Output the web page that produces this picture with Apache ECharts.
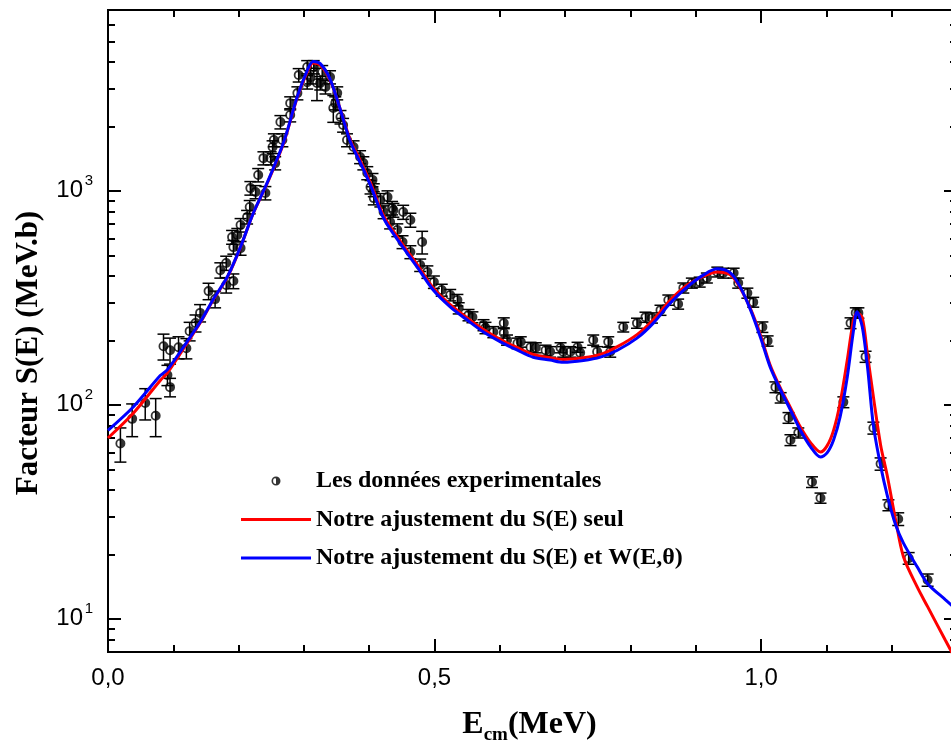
<!DOCTYPE html>
<html><head><meta charset="utf-8">
<script src="https://cdn.jsdelivr.net/npm/echarts@6/dist/echarts.min.js"></script>
<style>html,body{margin:0;padding:0;background:#fff}#c{width:951px;height:751px}</style>
</head><body><div id="c"></div>
<script>
// Experimental points: energy (MeV), S-factor (MeV.b), error
const expE = [0.019,0.037,0.057,0.073,0.085,0.091,0.095,0.095,0.108,0.120,0.125,0.134,0.141,0.154,0.164,0.172,0.181,0.181,0.190,0.192,0.192,0.198,0.203,0.203,0.213,0.217,0.218,0.226,0.230,0.238,0.241,0.249,0.252,0.254,0.256,0.264,0.267,0.279,0.279,0.290,0.292,0.305,0.305,0.310,0.315,0.320,0.325,0.328,0.333,0.340,0.345,0.348,0.351,0.356,0.360,0.366,0.376,0.386,0.391,0.397,0.402,0.405,0.407,0.407,0.417,0.422,0.428,0.432,0.435,0.437,0.443,0.451,0.452,0.463,0.463,0.478,0.481,0.489,0.499,0.511,0.524,0.535,0.537,0.552,0.558,0.575,0.578,0.590,0.606,0.606,0.611,0.627,0.632,0.647,0.655,0.670,0.677,0.693,0.697,0.708,0.719,0.723,0.743,0.749,0.766,0.769,0.789,0.810,0.823,0.833,0.846,0.858,0.873,0.881,0.894,0.906,0.917,0.933,0.942,0.958,0.965,0.979,0.988,1.002,1.010,1.022,1.030,1.042,1.045,1.057,1.078,1.091,1.126,1.137,1.145,1.149,1.160,1.172,1.183,1.195,1.210,1.226,1.255];
const expS = [66,86,102,89,188,138,180,121,186,184,221,241,269,340,312,426,460,363,608,546,379,622,540,692,755,841,1030,988,1186,1422,977,1422,1603,1727,1348,2097,1727,2260,2570,2862,3475,3790,3220,3400,3790,3190,3190,3590,3055,3400,2440,2570,2862,2213,2030,1727,1603,1440,1348,1212,1042,1125,1009,925,906,796,935,714,832,813,656,577,796,518,731,450,577,418,375,344,326,309,283,263,257,236,229,219,241,217,201,194,197,186,185,180,177,185,177,177,186,175,201,177,197,177,231,241,257,255,277,309,296,352,371,375,392,418,413,413,371,333,302,231,199,121,108,87,68.5,74,43.6,36.7,103,241,269,269,168,78,53,34,29.3,19.2,15.2];
const expErr = [12,15,17,18,26,15,25,12,22,20,22,22,25,30,28,35,35,30,45,40,30,45,40,50,55,60,75,70,85,100,70,100,110,120,95,150,120,160,180,200,250,270,230,240,270,550,230,260,220,240,350,180,200,160,150,120,110,100,95,85,75,80,70,65,65,55,65,50,60,60,45,40,60,36,55,30,70,28,25,22,20,19,17,16,15,14,14,13,14,12,11,11,11,10,10,10,10,10,10,10,10,10,11,10,11,10,12,13,14,14,15,17,16,19,20,20,21,22,22,22,20,18,16,13,11,7,6,5,4,4,2.5,2,6,14,15,15,10,5,3.5,2,2,1.2,1];

// Fitted curves sampled along energy
const fitE = [0,0.039,0.080,0.091,0.121,0.141,0.161,0.183,0.203,0.222,0.244,0.269,0.290,0.305,0.314,0.325,0.340,0.356,0.371,0.386,0.402,0.422,0.448,0.474,0.498,0.524,0.550,0.575,0.601,0.627,0.651,0.677,0.697,0.728,0.754,0.780,0.810,0.835,0.861,0.887,0.912,0.933,0.953,0.968,0.984,0.999,1.014,1.030,1.045,1.060,1.076,1.091,1.101,1.111,1.121,1.132,1.141,1.147,1.155,1.163,1.172,1.183,1.193,1.206,1.218,1.239,1.255,1.282,1.300];
const fitSeul = [70,91.6,130,141,194,241,309,396,546,780,1089,1675,2744,3590,3956,3870,3300,2390,1727,1393,1089,765,580,450,352,294,255,225,202,185,172,166,163,166,172,187,213,250,309,363,400,418,405,352,280,212,153,119,97,79,66.4,60.2,64.3,76,102,162,244,269,255,171,109,65,47,29,19.5,14.1,11.4,7.96,6.3];
const fitSW = [76,98,137,146,197,243,311,398,548,780,1095,1690,2770,3650,4020,3930,3330,2380,1700,1360,1060,745,565,438,344,287,249,219,197,180,167,162,158,161,167,180,205,241,299,356,405,432,414,356,277,207,150,117,94.6,76.3,63.5,57,59.6,68.5,87.8,135,217,272,231,150,80,52,38,27.5,22.6,17.5,14.6,12.3,11.0];

// Axis ticks
const xMajorTicks = [0, 0.5, 1.0];
const yMajorTicks = [10, 100, 1000];
const yMinorTicks = [8,9,20,30,40,50,60,70,80,90,200,300,400,500,600,700,800,900,2000,3000,4000,5000,6000];

const seriesNames = ['Les données experimentales', 'Notre ajustement du S(E) seul', 'Notre ajustement du S(E) et W(E,θ)'];

const halfDot = 'path://M50,0 A50,50 0 0 0 50,100 L50,82 A32,32 0 0 1 50,18 Z M50,0 A50,50 0 0 1 50,100 Z';
const lineIcon = 'path://M0,0 L70,0 L70,3 L0,3 Z';

const chart = echarts.init(document.getElementById('c'), null, {renderer: 'canvas'});
const black = '#000';
const sans = 'Liberation Sans';
const serif = 'Liberation Serif';

function xAxisDef(pos, major, withLabel) {
  const a = {
    type: 'value', position: pos, min: 0, max: 1.3,
    interval: major ? 0.5 : 0.1,
    axisLine: {show: true, onZero: false, lineStyle: {color: black, width: 2}},
    axisTick: {show: true, inside: true, length: major ? 13 : 7, lineStyle: {color: black, width: 2}},
    splitLine: {show: false},
    axisLabel: {show: false}
  };
  if (major) { a.axisTick.customValues = xMajorTicks; }
  if (withLabel) {
    a.axisLabel = {
      show: true, customValues: xMajorTicks, margin: 14,
      fontFamily: sans, fontSize: 24, color: black,
      formatter: v => v.toFixed(1).replace('.', ',')
    };
    a.name = '{a|E}{s|cm}{a|(MeV)}';
    a.nameLocation = 'middle';
    a.nameGap = 57;
    a.nameTextStyle = {
      padding: [0, 6, 0, 0],
      rich: {
        a: {fontFamily: serif, fontWeight: 'bold', fontSize: 32, color: black, lineHeight: 36, verticalAlign: 'top'},
        s: {fontFamily: serif, fontWeight: 'bold', fontSize: 19, color: black, lineHeight: 19, padding: [17, 0, 0, 0], verticalAlign: 'top'}
      }
    };
  }
  return a;
}

function yAxisDef(pos, major, labelKind) {
  const a = {
    type: 'log', logBase: 10, position: pos, min: 7, max: 7000,
    axisLine: {show: true, onZero: false, lineStyle: {color: black, width: 2}},
    axisTick: {show: true, inside: true, length: major ? 13 : 7, lineStyle: {color: black, width: 2},
               customValues: major ? yMajorTicks : yMinorTicks},
    splitLine: {show: false},
    minorTick: {show: false},
    axisLabel: {show: false}
  };
  if (labelKind === 'base') {
    a.axisLabel = {
      show: true, customValues: yMajorTicks, margin: 25,
      fontFamily: sans, fontSize: 24, color: black,
      formatter: v => {
        const k = Math.round(Math.log10(v));
        return Math.abs(Math.pow(10, k) - v) > 1e-6 * v ? '' : '10';
      }
    };
    a.name = 'Facteur S(E) (MeV.b)';
    a.nameLocation = 'middle';
    a.nameRotate = 90;
    a.nameGap = 64;
    a.nameTextStyle = {fontFamily: serif, fontWeight: 'bold', fontSize: 31, color: black, padding: [0, 44, 0, 0]};
  } else if (labelKind === 'exp') {
    a.axisLabel = {
      show: true, customValues: yMajorTicks, margin: 15,
      fontFamily: sans, fontSize: 15, color: black, lineHeight: 15,
      verticalAlign: 'bottom', padding: [0, 0, 2, 0],
      formatter: v => {
        const k = Math.round(Math.log10(v));
        return Math.abs(Math.pow(10, k) - v) > 1e-6 * v ? '' : String(k);
      }
    };
  }
  return a;
}

const option = {
  animation: false,
  backgroundColor: '#fff',
  grid: {left: 108, top: 10, width: 849, height: 642, containLabel: false, outerBoundsMode: 'none'},
  xAxis: [xAxisDef('bottom', true, true), xAxisDef('bottom', false, false), xAxisDef('top', true, false), xAxisDef('top', false, false)],
  yAxis: [yAxisDef('left', true, 'base'), yAxisDef('left', false, 'exp'), yAxisDef('right', true, null), yAxisDef('right', false, null)],
  legend: {
    orient: 'vertical', left: 236, top: 462,
    itemWidth: 70, itemHeight: 9, itemGap: 10.5,
    textStyle: {fontFamily: serif, fontWeight: 'bold', fontSize: 24, color: black, lineHeight: 28},
    data: [
      {name: seriesNames[0]},
      {name: seriesNames[1], icon: lineIcon},
      {name: seriesNames[2], icon: lineIcon}
    ],
    selectedMode: false
  },
  series: [
    {
      type: 'custom', name: 'barres', xAxisIndex: 0, yAxisIndex: 0, clip: true, silent: true, z: 1,
      data: expE.map((e, i) => [e, expS[i], expErr[i]]),
      encode: {x: 0, y: 1},
      renderItem: (params, api) => {
        const x = api.value(0), y = api.value(1), e = api.value(2);
        const p1 = api.coord([x, y + e]);
        const p2 = api.coord([x, Math.max(y - e, 1e-3)]);
        const hw = 6;
        const st = {stroke: '#000', lineWidth: 1.5};
        return {type: 'group', children: [
          {type: 'line', shape: {x1: p1[0], y1: p1[1], x2: p2[0], y2: p2[1]}, style: st},
          {type: 'line', shape: {x1: p1[0] - hw, y1: p1[1], x2: p1[0] + hw, y2: p1[1]}, style: st},
          {type: 'line', shape: {x1: p2[0] - hw, y1: p2[1], x2: p2[0] + hw, y2: p2[1]}, style: st}
        ]};
      }
    },
    {
      type: 'scatter', name: seriesNames[0], xAxisIndex: 0, yAxisIndex: 0, z: 2,
      symbol: halfDot, symbolSize: 10, symbolKeepAspect: true,
      itemStyle: {color: black},
      data: expE.map((e, i) => [e, expS[i]])
    },
    {
      type: 'line', name: seriesNames[1], xAxisIndex: 0, yAxisIndex: 0, z: 3,
      symbol: 'none', showSymbol: false, smooth: 0.3, clip: true,
      lineStyle: {color: '#ff0000', width: 3}, itemStyle: {color: '#ff0000'},
      data: fitE.map((e, i) => [e, fitSeul[i]])
    },
    {
      type: 'line', name: seriesNames[2], xAxisIndex: 0, yAxisIndex: 0, z: 4,
      symbol: 'none', showSymbol: false, smooth: 0.3, clip: true,
      lineStyle: {color: '#0000ff', width: 3}, itemStyle: {color: '#0000ff'},
      data: fitE.map((e, i) => [e, fitSW[i]])
    }
  ]
};
chart.setOption(option);
</script>
</body></html>
